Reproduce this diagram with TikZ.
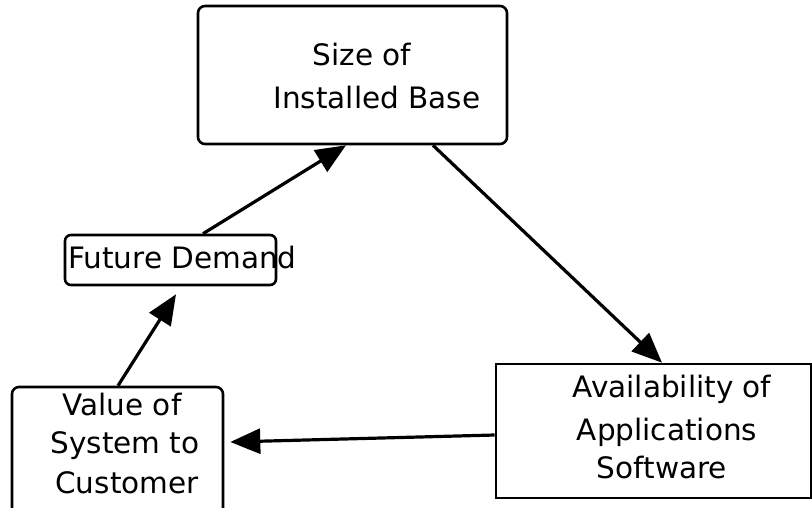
\documentclass[tikz,border=0pt]{standalone}
\usepackage{fontspec}
\setmainfont{DejaVu Sans}
\usetikzlibrary{arrows.meta}
\begin{document}
\begin{tikzpicture}[x=1pt,y=-1pt,
  box/.style={draw=black,line width=2.6pt,inner sep=0pt,fill=white},
  roundbox/.style={box,rounded corners=7pt},
  label/.style={anchor=base,inner sep=0pt,font=\fontsize{29.5}{39}\selectfont},
  link/.style={line width=3.2pt,-{Triangle[length=30pt,width=25pt]}}]
\useasboundingbox (0,0) rectangle (812,507);
\clip (0,0) rectangle (812,507);
\fill[white] (0,0) rectangle (812,507);

% boxes
\node[roundbox,minimum width=309pt,minimum height=138pt] (base) at (352.5,75) {};
\node[roundbox,rounded corners=6pt,minimum width=211pt,minimum height=50pt] (future) at (170.5,260) {};
\node[roundbox,minimum width=211pt,minimum height=128pt] (value) at (117.5,451) {};
\node[box,minimum width=315pt,minimum height=134pt] (avail) at (653.5,431) {};

% texts
\node[label] (base1) at (362,65) {Size of};
\node[label] (base2) at (377,108) {Installed Base};
\node[label] (future1) at (182.5,268) {Future Demand};
\node[label] (value1) at (122,415) {Value of};
\node[label] (value2) at (125,453) {System to};
\node[label] (value3) at (127,493) {Customer};
\node[label] (avail1) at (672,397) {Availability of};
\node[label] (avail2) at (667,440) {Applications};
\node[label] (avail3) at (662,478) {Software};

% feedback loop
\draw[link] ([xshift=80.5pt]base.south) -- ([xshift=8.5pt]avail.north);
\draw[link] ([yshift=-4pt]avail.west) -- ([shift={(6pt,9pt)}]value.east);
\draw[link] ([xshift=0.5pt]value.north) -- ([shift={(5.5pt,-8pt)}]future.south);
\draw[link] ([xshift=32.5pt]future.north) -- ([xshift=-6.5pt]base.south);
\end{tikzpicture}
\end{document}
